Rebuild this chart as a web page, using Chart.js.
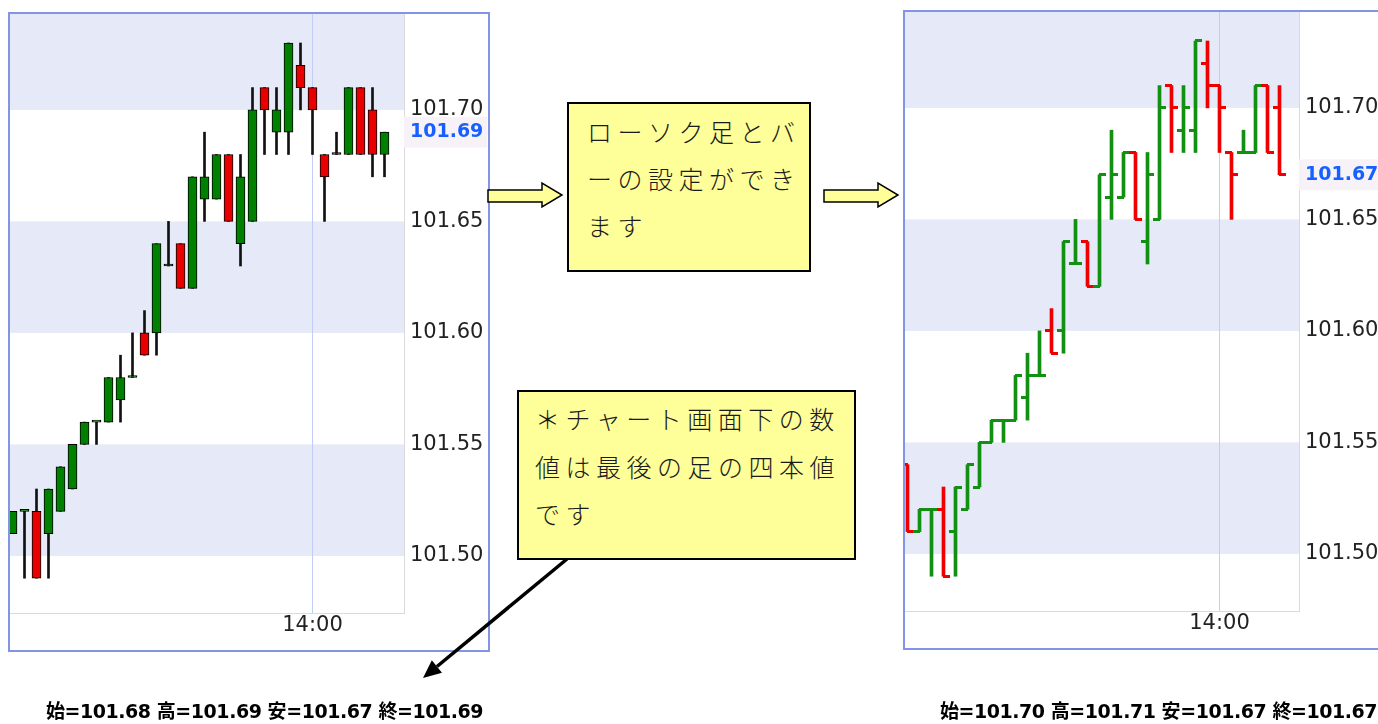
<!DOCTYPE html>
<html lang="ja">
<head>
<meta charset="utf-8">
<script src="https://cdn.jsdelivr.net/npm/chart.js@4.4.1/dist/chart.umd.min.js"></script>
<style>
  html, body { margin: 0; padding: 0; background: #fff; }
  body { position: relative; width: 1378px; height: 724px; overflow: hidden; }
  .frame { position: absolute; box-sizing: border-box; width: 482px; height: 640px; border: 2px solid #8494e4; background: #fff; }
  .frame canvas { display: block; }
  .note { position: absolute; box-sizing: border-box; background: #ffff99; border: 2px solid #000;
          font-family: "Noto Sans CJK JP", sans-serif; font-weight: 300; font-size: 25px; letter-spacing: 5.5px;
          line-height: 47px; color: #1a1a1a; white-space: nowrap; }
  .quote { position: absolute; font-family: "DejaVu Sans", "Noto Sans CJK JP", sans-serif; font-weight: bold;
           font-size: 19px; letter-spacing: -0.45px; line-height: 24px; color: #000; white-space: nowrap; }
  svg { position: absolute; left: 0; top: 0; }
</style>
</head>
<body>
<div class="frame" style="left:8px; top:12px;"><canvas id="candleChart" width="478" height="636"></canvas></div>
<div class="frame" style="left:903px; top:10px;"><canvas id="barChart" width="478" height="636"></canvas></div>

<div class="note" style="left:567px; top:102px; width:244px; height:170px; padding:4px 0 0 18px;">ローソク足とバ<br>ーの設定ができ<br>ます</div>
<div class="note" style="left:517px; top:390px; width:339px; height:170px; padding:3px 0 0 16px; line-height:47.5px;">＊チャート画面下の数<br>値は最後の足の四本値<br>です</div>

<svg width="1378" height="724">
  <polygon points="488,190 542,190 542,183 562,195 542,207 542,202 488,202" fill="#ffff99" stroke="#000" stroke-width="1.5"/>
  <polygon points="824,190 878,190 878,183 898,195 878,207 878,202 824,202" fill="#ffff99" stroke="#000" stroke-width="1.5"/>
  <line x1="567" y1="559" x2="437" y2="666.5" stroke="#000" stroke-width="3.5"/>
  <polygon points="423,678 442,672.7 431.8,660.3" fill="#000"/>
</svg>

<div class="quote" id="candleQuote" style="left:46px; top:699px;"></div>
<div class="quote" id="barQuote" style="left:940px; top:699px;"></div>

<script>
// ローソク足（左のチャート、32本）
const candleOpen  = [101.51, 101.52, 101.52, 101.51, 101.52, 101.53, 101.55, 101.56, 101.56, 101.57, 101.58, 101.60, 101.60, 101.63, 101.64, 101.62,
                     101.66, 101.66, 101.68, 101.64, 101.65, 101.71, 101.69, 101.69, 101.72, 101.71, 101.68, 101.68, 101.68, 101.71, 101.70, 101.68];
const candleHigh  = [101.52, 101.52, 101.53, 101.53, 101.54, 101.55, 101.56, 101.56, 101.58, 101.59, 101.60, 101.61, 101.64, 101.65, 101.64, 101.67,
                     101.69, 101.68, 101.68, 101.68, 101.71, 101.71, 101.71, 101.73, 101.73, 101.71, 101.68, 101.69, 101.71, 101.71, 101.71, 101.69];
const candleLow   = [101.51, 101.49, 101.49, 101.49, 101.52, 101.53, 101.55, 101.55, 101.56, 101.56, 101.58, 101.59, 101.59, 101.63, 101.62, 101.62,
                     101.65, 101.66, 101.65, 101.63, 101.65, 101.68, 101.68, 101.68, 101.70, 101.68, 101.65, 101.68, 101.68, 101.68, 101.67, 101.67];
const candleClose = [101.52, 101.52, 101.49, 101.53, 101.54, 101.55, 101.56, 101.56, 101.58, 101.58, 101.58, 101.59, 101.64, 101.63, 101.62, 101.67,
                     101.67, 101.68, 101.65, 101.67, 101.70, 101.70, 101.70, 101.73, 101.71, 101.70, 101.67, 101.68, 101.71, 101.68, 101.68, 101.69];

// バー（右のチャート、1本前の時点）
const barOpen  = [101.54, 101.51, 101.52, 101.52, 101.51, 101.52, 101.53, 101.55, 101.56, 101.56, 101.57, 101.58, 101.60, 101.60, 101.63, 101.64,
                  101.62, 101.66, 101.66, 101.68, 101.64, 101.65, 101.71, 101.69, 101.69, 101.72, 101.71, 101.68, 101.68, 101.68, 101.71, 101.70];
const barHigh  = [101.54, 101.52, 101.52, 101.53, 101.53, 101.54, 101.55, 101.56, 101.56, 101.58, 101.59, 101.60, 101.61, 101.64, 101.65, 101.64,
                  101.67, 101.69, 101.68, 101.68, 101.68, 101.71, 101.71, 101.71, 101.73, 101.73, 101.71, 101.68, 101.69, 101.71, 101.71, 101.71];
const barLow   = [101.51, 101.51, 101.49, 101.49, 101.49, 101.52, 101.53, 101.55, 101.55, 101.56, 101.56, 101.58, 101.59, 101.59, 101.63, 101.62,
                  101.62, 101.65, 101.66, 101.65, 101.63, 101.65, 101.68, 101.68, 101.68, 101.70, 101.68, 101.65, 101.68, 101.68, 101.68, 101.67];
const barClose = [101.51, 101.52, 101.52, 101.49, 101.53, 101.54, 101.55, 101.56, 101.56, 101.58, 101.58, 101.58, 101.59, 101.64, 101.63, 101.62,
                  101.67, 101.67, 101.68, 101.65, 101.67, 101.70, 101.70, 101.70, 101.73, 101.71, 101.70, 101.67, 101.68, 101.71, 101.68, 101.67];

// 目盛り
const priceTicks = [101.50, 101.55, 101.60, 101.65, 101.70];
const timeTickLabels = ['14:00'];
const candleTimeTicks = [25];
const barTimeTicks = [26];

// 表示範囲
const yMin = 101.4744, yMax = 101.7430;
const xMin = -0.2083, xMax = 32.625;

const FONT = 'DejaVu Sans';
Chart.defaults.font.family = FONT;

// 縞模様の背景（目盛りの間を交互に塗る）
const bandPlugin = {
    id: 'bands',
    beforeDraw(chart) {
        const { ctx, chartArea: a, scales: { y } } = chart;
        ctx.save();
        ctx.fillStyle = '#e6e9f7';
        priceTicks.forEach((v, k) => {
            if (k % 2) return;
            const next = k + 1 < priceTicks.length ? priceTicks[k + 1] : y.max;
            const top = y.getPixelForValue(next);
            const bottom = y.getPixelForValue(v);
            ctx.fillRect(a.left, top, a.right - a.left, bottom - top);
        });
        ctx.restore();
    }
};

function priceAxis(lastClose) {
    return {
        type: 'linear',
        position: 'right',
        min: yMin,
        max: yMax,
        afterBuildTicks: scale => {
            scale.ticks = priceTicks.map(v => ({ value: v }));
            scale.ticks.push({ value: lastClose, current: true });
        },
        afterFit: scale => {
            scale.width = 84;
            scale.paddingTop = 0;
            scale.paddingBottom = 0;
        },
        grid: { display: false, drawTicks: false },
        border: { display: true, color: '#dadada', width: 1 },
        ticks: {
            autoSkip: false,
            padding: 6,
            callback: v => Number(v).toFixed(2),
            color: ctx => (ctx.tick && ctx.tick.current ? '#1560ff' : '#222'),
            font: ctx => (ctx.tick && ctx.tick.current
                ? { family: FONT, size: 19, weight: 'bold' }
                : { family: FONT, size: 21 }),
            showLabelBackdrop: ctx => !!(ctx.tick && ctx.tick.current),
            backdropColor: '#f7f2f7',
            backdropPadding: { left: 6, right: 4, top: 4, bottom: 4 }
        }
    };
}

function timeAxis(tickIndexes) {
    return {
        type: 'linear',
        position: 'bottom',
        min: xMin,
        max: xMax,
        offset: false,
        afterBuildTicks: scale => {
            scale.ticks = tickIndexes.map(v => ({ value: v }));
        },
        afterFit: scale => {
            scale.height = 37;
            scale.paddingLeft = 0;
            scale.paddingRight = 0;
        },
        grid: { display: true, offset: false, color: '#bfcdf7', lineWidth: 1, drawTicks: false },
        border: { display: true, color: '#dadada', width: 1 },
        ticks: {
            autoSkip: false,
            maxRotation: 0,
            padding: 0,
            color: '#222',
            font: { family: FONT, size: 21 },
            callback: v => timeTickLabels[tickIndexes.indexOf(v)]
        }
    };
}

const commonOptions = {
    responsive: false,
    animation: false,
    events: [],
    layout: { padding: 0, autoPadding: false },
    plugins: { legend: { display: false }, tooltip: { enabled: false } }
};

// 左：ローソク足
const CANDLE_UP = '#008000';
const CANDLE_DOWN = '#e80000';

new Chart(document.getElementById('candleChart'), {
    type: 'bar',
    data: {
        datasets: [
            {
                // 実体
                data: candleOpen.map((o, i) => ({ x: i, y: [o, candleClose[i]] })),
                backgroundColor: ctx => (candleClose[ctx.dataIndex] >= candleOpen[ctx.dataIndex] ? CANDLE_UP : CANDLE_DOWN),
                borderColor: '#000',
                borderWidth: 1,
                borderSkipped: false,
                barThickness: 9,
                minBarLength: 2,
                grouped: false,
                order: 0
            },
            {
                // ヒゲ
                data: candleLow.map((l, i) => ({ x: i, y: [l, candleHigh[i]] })),
                backgroundColor: '#111',
                borderWidth: 0,
                barThickness: 2,
                grouped: false,
                order: 1
            }
        ]
    },
    options: {
        ...commonOptions,
        scales: {
            x: timeAxis(candleTimeTicks),
            y: priceAxis(candleClose[candleClose.length - 1])
        }
    },
    plugins: [bandPlugin]
});

// 右：バー（始値は左、終値は右の横線）
const BAR_UP = '#129012';
const BAR_DOWN = '#ee0000';

function tickImage(color, side) {
    const c = document.createElement('canvas');
    c.width = 13;
    c.height = 3;
    const g = c.getContext('2d');
    g.fillStyle = color;
    g.fillRect(side === 'left' ? 0 : 6, 0, 7, 3);
    return c;
}
const openUp = tickImage(BAR_UP, 'left'), openDown = tickImage(BAR_DOWN, 'left');
const closeUp = tickImage(BAR_UP, 'right'), closeDown = tickImage(BAR_DOWN, 'right');
const isUp = i => barClose[i] >= barOpen[i];

new Chart(document.getElementById('barChart'), {
    type: 'bar',
    data: {
        datasets: [
            {
                data: barLow.map((l, i) => ({ x: i, y: [l, barHigh[i]] })),
                backgroundColor: ctx => (isUp(ctx.dataIndex) ? BAR_UP : BAR_DOWN),
                borderWidth: 0,
                barThickness: 3,
                grouped: false,
                order: 1
            },
            {
                type: 'line',
                data: barOpen.map((o, i) => ({ x: i, y: o })),
                showLine: false,
                pointRadius: 6,
                pointStyle: ctx => (isUp(ctx.dataIndex) ? openUp : openDown),
                order: 0
            },
            {
                type: 'line',
                data: barClose.map((c, i) => ({ x: i, y: c })),
                showLine: false,
                pointRadius: 6,
                pointStyle: ctx => (isUp(ctx.dataIndex) ? closeUp : closeDown),
                order: 0
            }
        ]
    },
    options: {
        ...commonOptions,
        scales: {
            x: timeAxis(barTimeTicks),
            y: priceAxis(barClose[barClose.length - 1])
        }
    },
    plugins: [bandPlugin]
});

// チャート下の四本値
function quoteText(o, h, l, c) {
    const last = o.length - 1;
    return '始=' + o[last].toFixed(2) + ' 高=' + h[last].toFixed(2) + ' 安=' + l[last].toFixed(2) + ' 終=' + c[last].toFixed(2);
}
document.getElementById('candleQuote').textContent = quoteText(candleOpen, candleHigh, candleLow, candleClose);
document.getElementById('barQuote').textContent = quoteText(barOpen, barHigh, barLow, barClose);
</script>
</body>
</html>
